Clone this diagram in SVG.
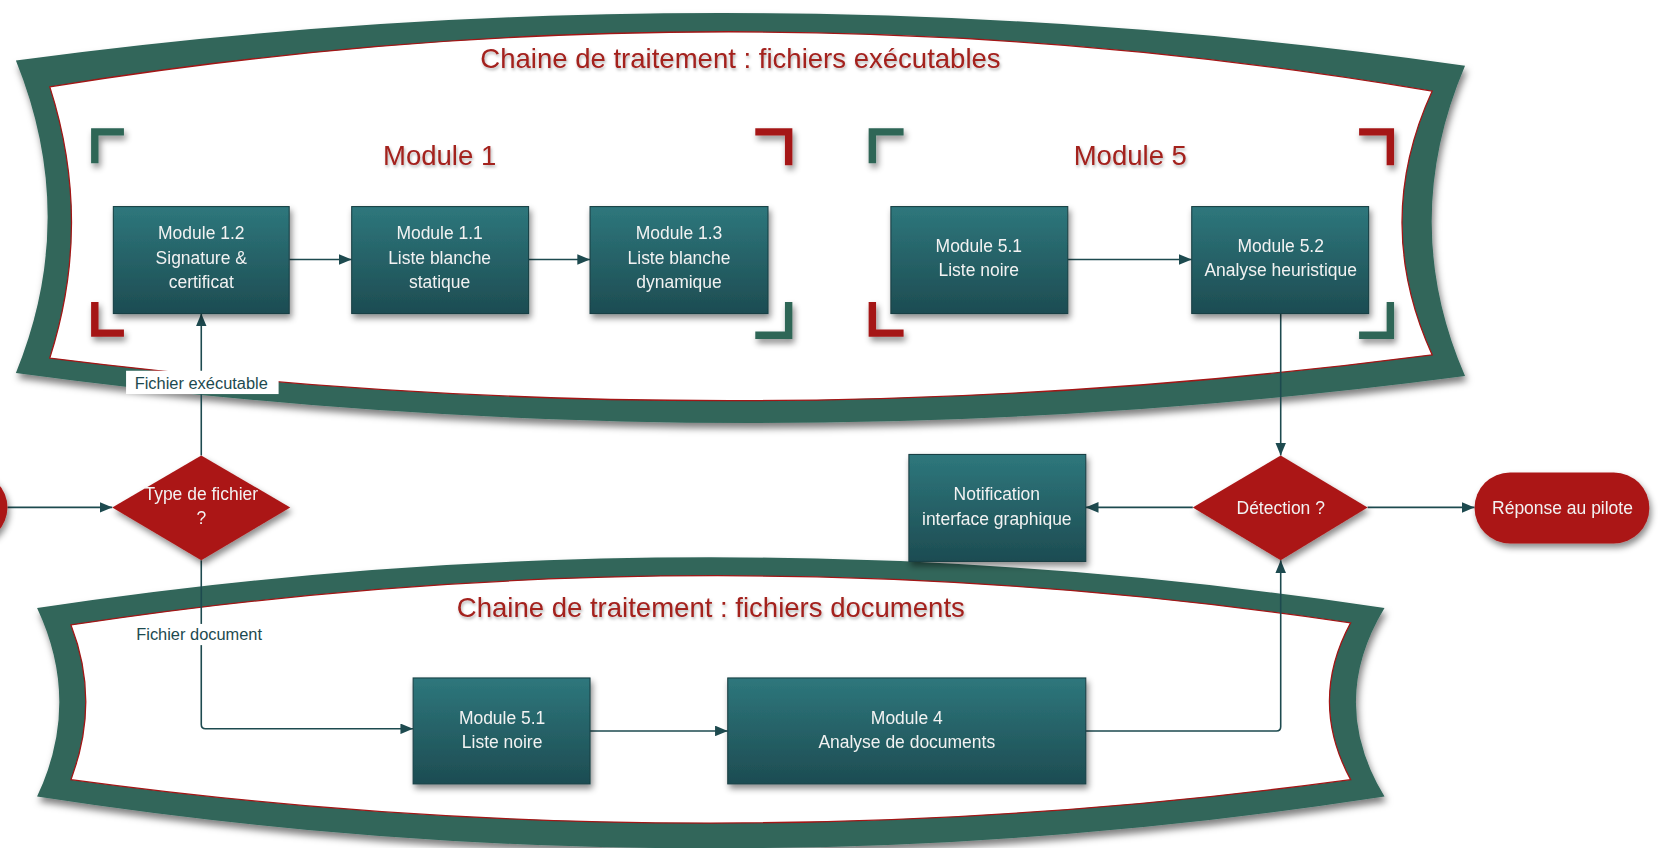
<svg xmlns="http://www.w3.org/2000/svg" width="1661" height="848" viewBox="0 0 1661 848">
<defs>
<linearGradient id="gBox" x1="0" y1="0" x2="0" y2="1">
<stop offset="0" stop-color="#2e777c"/>
<stop offset="1" stop-color="#1d4c52"/>
</linearGradient>
<filter id="sh" x="-20%" y="-20%" width="150%" height="160%">
<feDropShadow dx="2" dy="4" stdDeviation="3" flood-color="#000" flood-opacity="0.45"/>
</filter>
<filter id="shB" x="-10%" y="-10%" width="120%" height="130%">
<feDropShadow dx="2" dy="5" stdDeviation="3.5" flood-color="#000" flood-opacity="0.5"/>
</filter>
<filter id="shT" x="-10%" y="-30%" width="120%" height="180%">
<feDropShadow dx="1" dy="2" stdDeviation="1.5" flood-color="#000" flood-opacity="0.3"/>
</filter>
<marker id="ah" viewBox="0 0 12 10" refX="12" refY="5" markerWidth="12" markerHeight="10" orient="auto" markerUnits="userSpaceOnUse">
<path d="M0,0 L12,5 L0,10 z" fill="#1d4a4f"/>
</marker>
<style>
.band{fill:#30665a}
.inner{fill:#fff;stroke:#a31515;stroke-width:1.2}
.box{fill:url(#gBox);stroke:#183f44;stroke-width:1}
.dia{fill:#ab1616}
.bt{font-family:"Liberation Sans",Arial,sans-serif;font-size:16.5px;fill:#f2f2f2;text-anchor:middle}
.title{font-family:"Liberation Sans",Arial,sans-serif;font-size:26px;fill:#a3201e;text-anchor:middle}
.lbl{font-family:"Liberation Sans",Arial,sans-serif;font-size:15.5px;fill:#1d4a4f;text-anchor:middle}
.con{fill:none;stroke:#1d4a4f;stroke-width:1.5}
.brG{fill:#2f6657}
.brR{fill:#a51818}
</style>
</defs>
<g transform="scale(1.05931)">
<g id="banner-exec" filter="url(#shB)">
<path class="band" d="M15,57 Q700,-35 1383,62 Q1320,210 1383,355 Q700,445 15,352 Q75,205 15,57 Z"/>
<path class="inner" d="M47,82 Q700,-24 1352,86 Q1295,210 1352,335 Q700,420 47,338 Q88,210 47,82 Z"/>
</g>
<g id="banner-docs" filter="url(#shB)">
<path class="band" d="M35,574 Q670,478 1307,574 Q1253,663 1307,752 Q670,850 35,752 Q77,663 35,574 Z"/>
<path class="inner" d="M67,590 Q670,498 1275,588 Q1235,662 1275,736 Q670,818 67,736 Q95,662 67,590 Z"/>
</g>
<g id="brackets" filter="url(#sh)">
<path class="brG" d="M86,121 H117 V128 H93 V154 H86 Z"/>
<path class="brR" d="M713,121 H748 V156 H741 V128 H713 Z"/>
<path class="brR" d="M86,285 H93 V311 H117 V318 H86 Z"/>
<path class="brG" d="M741,285 H748 V320 H713 V313 H741 Z"/>
<path class="brG" d="M820,121 H853 V128 H827 V154 H820 Z"/>
<path class="brR" d="M1283,121 H1316 V156 H1309 V128 H1283 Z"/>
<path class="brR" d="M820,285 H827 V311 H853 V318 H820 Z"/>
<path class="brG" d="M1309,285 H1316 V320 H1283 V313 H1309 Z"/>
</g>
<g id="titles" filter="url(#shT)">
<text class="title" x="699" y="64">Chaine de traitement : fichiers exécutables</text>
<text class="title" x="415" y="156">Module 1</text>
<text class="title" x="1067" y="156">Module 5</text>
<text class="title" x="671" y="582">Chaine de traitement : fichiers documents</text>
</g>
<g id="connectors">
<path class="con" d="M7,479 H106" marker-end="url(#ah)"/>
<path class="con" d="M190,430 V296" marker-end="url(#ah)"/>
<path class="con" d="M190,529 V684 Q190,688 194,688 H390" marker-end="url(#ah)"/>
<path class="con" d="M273,245 H332" marker-end="url(#ah)"/>
<path class="con" d="M499,245 H557" marker-end="url(#ah)"/>
<path class="con" d="M1008,245 H1125" marker-end="url(#ah)"/>
<path class="con" d="M1209,296 V430" marker-end="url(#ah)"/>
<path class="con" d="M1126,479 H1025" marker-end="url(#ah)"/>
<path class="con" d="M1291,479 H1392" marker-end="url(#ah)"/>
<path class="con" d="M557,690 H687" marker-end="url(#ah)"/>
<path class="con" d="M1025,690 H1205 Q1209,690 1209,686 V529" marker-end="url(#ah)"/>
<rect x="119" y="350" width="144" height="22" fill="#fff"/>
<text class="lbl" x="190" y="367">Fichier exécutable</text>
<rect x="119" y="589" width="139" height="20" fill="#fff"/>
<text class="lbl" x="188" y="604">Fichier document</text>
</g>
<g id="start" filter="url(#sh)">
<rect class="dia" x="-160" y="446" width="167" height="66" rx="33"/>
</g>
<g id="type-fichier" filter="url(#sh)">
<path class="dia" d="M190,430 L274,479 L190,529 L106,479 Z"/>
<text class="bt" x="190" y="472">Type de fichier</text>
<text class="bt" x="190" y="495">?</text>
</g>
<g id="m12" filter="url(#sh)">
<rect class="box" x="107" y="195" width="166" height="101"/>
<text class="bt" x="190" y="226">Module 1.2</text>
<text class="bt" x="190" y="249">Signature &amp;</text>
<text class="bt" x="190" y="272">certificat</text>
</g>
<g id="m11" filter="url(#sh)">
<rect class="box" x="332" y="195" width="167" height="101"/>
<text class="bt" x="415" y="226">Module 1.1</text>
<text class="bt" x="415" y="249">Liste blanche</text>
<text class="bt" x="415" y="272">statique</text>
</g>
<g id="m13" filter="url(#sh)">
<rect class="box" x="557" y="195" width="168" height="101"/>
<text class="bt" x="641" y="226">Module 1.3</text>
<text class="bt" x="641" y="249">Liste blanche</text>
<text class="bt" x="641" y="272">dynamique</text>
</g>
<g id="m51a" filter="url(#sh)">
<rect class="box" x="841" y="195" width="167" height="101"/>
<text class="bt" x="924" y="238">Module 5.1</text>
<text class="bt" x="924" y="261">Liste noire</text>
</g>
<g id="m52" filter="url(#sh)">
<rect class="box" x="1125" y="195" width="167" height="101"/>
<text class="bt" x="1209" y="238">Module 5.2</text>
<text class="bt" x="1209" y="261">Analyse heuristique</text>
</g>
<g id="detection" filter="url(#sh)">
<path class="dia" d="M1209,430 L1291,479 L1209,529 L1126,479 Z"/>
<text class="bt" x="1209" y="485">Détection ?</text>
</g>
<g id="notification" filter="url(#sh)">
<rect class="box" x="858" y="429" width="167" height="101"/>
<text class="bt" x="941" y="472">Notification</text>
<text class="bt" x="941" y="496">interface graphique</text>
</g>
<g id="reponse" filter="url(#sh)">
<rect class="dia" x="1392" y="446" width="165" height="67" rx="33.5"/>
<text class="bt" x="1475" y="485">Réponse au pilote</text>
</g>
<g id="m51b" filter="url(#sh)">
<rect class="box" x="390" y="640" width="167" height="100"/>
<text class="bt" x="474" y="683">Module 5.1</text>
<text class="bt" x="474" y="706">Liste noire</text>
</g>
<g id="m4" filter="url(#sh)">
<rect class="box" x="687" y="640" width="338" height="100"/>
<text class="bt" x="856" y="683">Module 4</text>
<text class="bt" x="856" y="706">Analyse de documents</text>
</g>
</g>
</svg>
